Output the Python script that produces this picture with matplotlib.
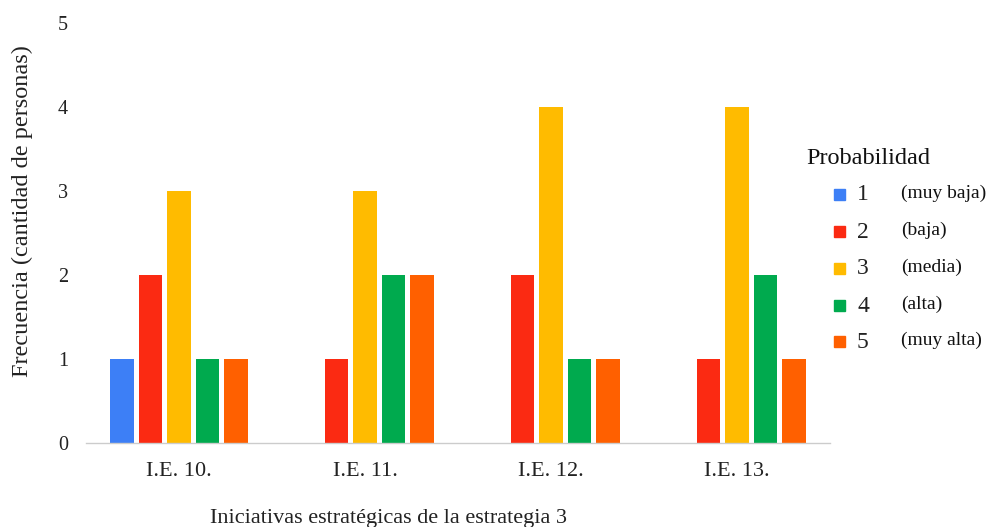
import numpy as np
import matplotlib
matplotlib.use("Agg")
import matplotlib.pyplot as plt
from matplotlib.patches import Rectangle

plt.rcParams['font.family'] = ['Liberation Serif', 'DejaVu Serif']

groups = ["I.E. 10.", "I.E. 11.", "I.E. 12.", "I.E. 13."]
levels = ["1", "2", "3", "4", "5"]
level_names = ["(muy baja)", "(baja)", "(media)", "(alta)", "(muy alta)"]
colors = ["#3d7ff6", "#fb2a12", "#ffbb00", "#00aa4e", "#ff6000"]
counts = [
    [1, 0, 0, 0],  # 1 muy baja
    [2, 1, 2, 1],  # 2 baja
    [3, 3, 4, 4],  # 3 media
    [1, 2, 1, 2],  # 4 alta
    [1, 2, 1, 1],  # 5 muy alta
]

W, H = 989, 527
fig = plt.figure(figsize=(W / 100, H / 100), dpi=100)
ax = fig.add_axes([86 / W, 1 - 443 / H, (830 - 86) / W, (443 - 23) / H])

x = np.arange(len(groups))
step = 0.153
width = 0.125
for i, (vals, c) in enumerate(zip(counts, colors)):
    offs = (i - 2) * step
    ax.bar(x + offs, vals, width=width, color=c, zorder=2)

ax.set_xlim(-0.5, len(groups) - 0.5)
ax.set_ylim(0, 5)
ax.set_yticks(range(0, 6))
ax.set_xticks(x)
ax.set_xticklabels(groups)
for s in ["top", "right", "left"]:
    ax.spines[s].set_visible(False)
ax.spines["bottom"].set_color("#cccccc")
ax.spines["bottom"].set_linewidth(1.0)
ax.tick_params(axis="both", length=0, colors="#222222")
ax.tick_params(axis="y", pad=13, labelsize=14.5)
ax.tick_params(axis="x", pad=14, labelsize=16)

fig.text(22 / W, 1 - 211 / H, "Frecuencia (cantidad de personas)", rotation=90,
         ha="center", va="center", fontsize=17.5, color="#222222")
fig.text(388 / W, 1 - 518 / H, "Iniciativas estratégicas de la estrategia 3",
         ha="center", va="center", fontsize=16, color="#222222")

# legend
fig.text(806 / W, 1 - 158 / H, "Probabilidad", ha="left", va="center",
         fontsize=17.5, color="#111111")
rows = [195, 232, 269, 306, 342]
for yy, lab, name, c in zip(rows, levels, level_names, colors):
    fig.patches.append(Rectangle((834 / W, 1 - (yy + 5) / H), 11 / W, 11 / H,
                                 transform=fig.transFigure, color=c))
    fig.text(857 / W, 1 - yy / H, lab, ha="left", va="center", fontsize=17,
             color="#222222")
    fig.text(901 / W, 1 - (yy - 2) / H, name, ha="left", va="center",
             fontsize=14, color="#111111")

fig.savefig("out.png", dpi=100)
